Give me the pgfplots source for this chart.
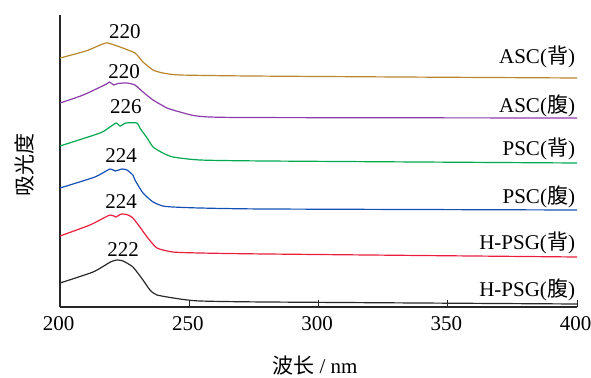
\documentclass[border=0pt]{standalone}
\usepackage{pgfplots}
\pgfplotsset{compat=1.18}
\usepackage{fontspec}
\setmainfont{Liberation Serif}
\newfontfamily\cjk{Noto Sans CJK SC}
\definecolor{cgold}{RGB}{184,134,43}
\definecolor{cpurple}{RGB}{140,60,170}
\definecolor{cgreen}{RGB}{0,168,80}
\definecolor{cblue}{RGB}{20,80,180}
\definecolor{cred}{RGB}{232,30,60}
\definecolor{cblack}{RGB}{40,40,40}
\begin{document}
\begin{tikzpicture}
\path[use as bounding box] (-60bp,-71bp) rectangle (531bp,307bp);
\begin{axis}[
  at={(0,0)}, anchor=south west,
  scale only axis, width=517bp, height=292bp,
  xmin=200, xmax=400, ymin=0, ymax=292,
  axis lines*=left,
  axis line style={line width=1.1pt, black!85},
  xtick={200,250,300,350,400},
  ytick=\empty,
  tick align=inside,
  major tick length=7bp,
  tick style={line width=0.8pt, black!85},
  xticklabel style={yshift=-6bp, xshift=-1.5bp},
  font=\fontsize{21bp}{25bp}\selectfont,
  /pgf/number format/assume math mode=true,
  clip=false,
  every axis plot/.append style={line width=1.2pt, no marks, smooth, tension=0.35},
]
\addplot[cgold] coordinates {(200,249)(210,256)(216.5,263)(218.5,264)(223.2,260)(229,254)(232.1,245)(236,237)(239.8,234)(246.4,232)(273.5,231)(331.5,230)(400,229)};
\addplot[cpurple] coordinates {(200,204)(209,212)(218,223)(219.2,225)(220.8,222)(222.4,223.5)(225.9,224)(229,222)(232.1,215)(236,207)(241.4,199)(246.4,195)(253,191)(270,189.5)(400,189)};
\addplot[cgreen] coordinates {(200,161)(215.5,174)(219.3,180)(221.8,184)(223.2,181)(225.5,184)(229.8,184)(230.9,179)(233.7,169)(236,160)(239.8,154)(243.7,150)(254.2,147)(280,146)(400,144)};
\addplot[cblue] coordinates {(200,119)(213.5,130)(219.3,138)(221.3,136)(224,138)(225.9,137)(228.2,132)(229,127)(232.1,114)(236,105)(239.8,101)(243.7,100)(254.2,99)(280,98)(400,97)};
\addplot[cred] coordinates {(200,71)(211.6,82)(219.3,92)(221.5,90)(223.8,93)(226.3,92)(228.2,89)(230.9,80)(233.7,70)(237.5,59)(243.7,55)(254.2,54)(280,53)(400,50)};
\addplot[cblack] coordinates {(200,24)(212.8,35)(219.5,45)(222,47)(224.4,46)(228.2,40)(232.1,27)(234.8,17)(237.5,12)(246.4,8)(254.2,6)(280,5)(400,3)};
\node at (axis cs:225.1,275) {220};
\node at (axis cs:224.8,235) {220};
\node at (axis cs:225.5,200) {226};
\node at (axis cs:223.6,151) {224};
\node at (axis cs:223.6,105) {224};
\node at (axis cs:224.4,57) {222};
\node[anchor=east, inner sep=0pt] at (axis cs:399.3,250) {ASC({\cjk 背})};
\node[anchor=east, inner sep=0pt] at (axis cs:399.3,201) {ASC({\cjk 腹})};
\node[anchor=east, inner sep=0pt] at (axis cs:399.3,158) {PSC({\cjk 背})};
\node[anchor=east, inner sep=0pt] at (axis cs:399.3,110) {PSC({\cjk 腹})};
\node[anchor=east, inner sep=0pt] at (axis cs:399.3,64) {H-PSG({\cjk 背})};
\node[anchor=east, inner sep=0pt] at (axis cs:399.3,17) {H-PSG({\cjk 腹})};
\node[rotate=90] at (axis cs:186.1,142) {\cjk 吸光度};
\node[inner sep=0pt] at (axis cs:298.6,-59) {{\cjk 波长} / nm};
\end{axis}
\end{tikzpicture}
\end{document}
